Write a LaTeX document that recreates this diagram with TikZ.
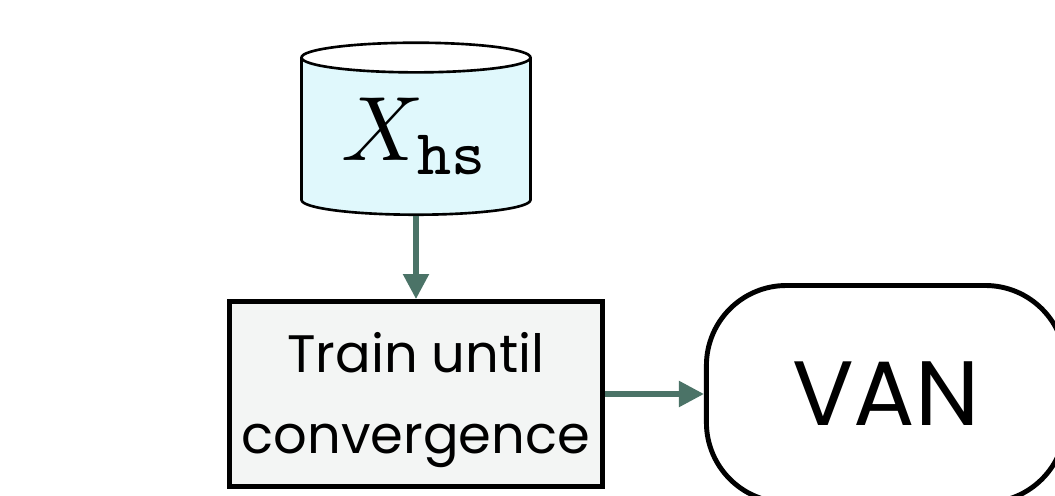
\documentclass[tikz,border=0pt]{standalone}
\usepackage{graphicx}
\usepackage{fontspec}
\setmainfont{Poppins}
\usetikzlibrary{arrows.meta, positioning, shapes.geometric}
\definecolor{dataCyan}{HTML}{E0F8FC}
\definecolor{stepGray}{HTML}{F3F5F4}
\definecolor{flowGreen}{HTML}{4B7367}
\begin{document}
\begin{tikzpicture}[
    data/.style={cylinder, shape border rotate=90, aspect=0.2, draw, line width=1.5pt,
                 cylinder uses custom fill, cylinder body fill=dataCyan,
                 cylinder end fill=white, minimum width=4.58cm, minimum height=3.44cm,
                 inner sep=0pt},
    train/.style={rectangle, draw, line width=2.8pt, fill=stepGray,
                  minimum width=7.46cm, minimum height=3.7cm, align=center,
                  font=\fontsize{30}{46}\selectfont},
    model/.style={rectangle, rounded corners=1.6cm, draw, line width=2.8pt,
                  minimum width=7.18cm, minimum height=4.34cm,
                  font=\fontsize{52}{60}\selectfont},
    arr/.style={-{Triangle[length=0.5cm, width=0.5cm]}, line width=3pt, color=flowGreen}
  ]
    \useasboundingbox (-8.32,-2.02) rectangle (12.78,7.88);
    \clip (-8.32,-2.02) rectangle (12.78,7.88);
    \node[train] (train) at (0,0) {\rule{0pt}{30pt}Train until\\convergence};
    \node[data, above=1.66cm of train] (xhs) {\scalebox{5.2}{$X_{\mathtt{hs}}$}};
    \node[model, right=1.98cm of train] (van) {VAN};

    \draw[arr] (xhs) -- (train);
    \draw[arr] (train) -- (van);
  \end{tikzpicture}
\end{document}
